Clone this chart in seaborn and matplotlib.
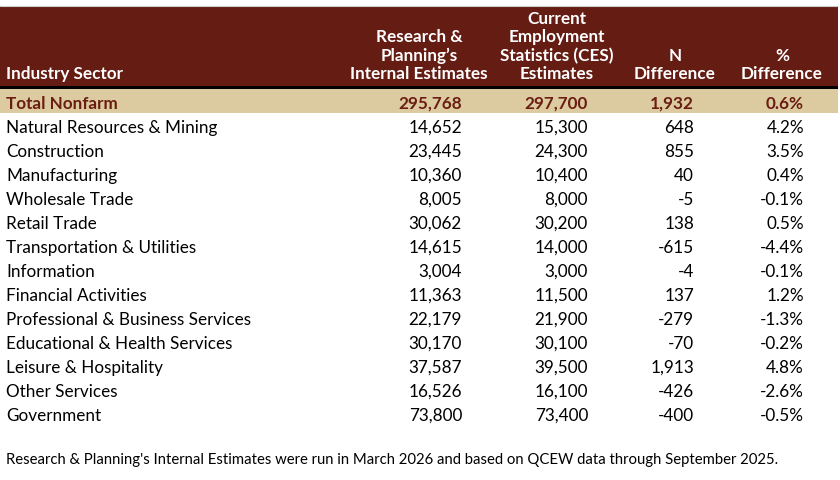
import pandas as pd
import matplotlib.pyplot as plt
import seaborn as sns

# Table values
sectors = ['Total Nonfarm', 'Natural Resources & Mining', 'Construction', 'Manufacturing',
           'Wholesale Trade', 'Retail Trade', 'Transportation & Utilities', 'Information',
           'Financial Activities', 'Professional & Business Services',
           'Educational & Health Services', 'Leisure & Hospitality', 'Other Services',
           'Government']
rp_estimates = [295768, 14652, 23445, 10360, 8005, 30062, 14615, 3004, 11363, 22179,
                30170, 37587, 16526, 73800]
ces_estimates = [297700, 15300, 24300, 10400, 8000, 30200, 14000, 3000, 11500, 21900,
                 30100, 39500, 16100, 73400]
n_difference = [1932, 648, 855, 40, -5, 138, -615, -4, 137, -279, -70, 1913, -426, -400]
pct_difference = [0.6, 4.2, 3.5, 0.4, -0.1, 0.5, -4.4, -0.1, 1.2, -1.3, -0.2, 4.8, -2.6, -0.5]

headers = ['Industry Sector', "Research &\nPlanning\u2019s\nInternal Estimates",
           'Current\nEmployment\nStatistics (CES)\nEstimates', 'N\nDifference', '%\nDifference']
footnote = ("Research & Planning's Internal Estimates were run in March 2026 and based on "
            "QCEW data through September 2025.")

df = pd.DataFrame({'sector': sectors, 'rp': rp_estimates, 'ces': ces_estimates,
                   'n': n_difference, 'pct': pct_difference})

sns.set_theme(style='white')
plt.rcParams['font.family'] = ['Lato', 'DejaVu Sans']

header_bg = '#641c13'
total_bg = '#dccba1'
total_fg = '#6a1d12'

fig = plt.figure(figsize=(8.4, 4.81), dpi=100)
ax = fig.add_axes([0, 0, 1, 1])
ax.set_xlim(0, 840)
ax.set_ylim(481, 0)
ax.axis('off')

# header block and rule
ax.axhspan(7, 87, xmin=0, xmax=838 / 840, color=header_bg, lw=0)
ax.axhspan(87, 90, xmin=0, xmax=838 / 840, color='black', lw=0)
ax.axhline(7, xmax=838 / 840, color='#cccccc', lw=0.8)

# header text
fs = 12.3
ax.text(6, 79, headers[0], color='white', fontsize=fs, fontweight='bold', va='baseline')
col_centers = [419, 557, 675, 782]
for cx, h in zip(col_centers, headers[1:]):
    ax.text(cx, 79, h, color='white', fontsize=fs, fontweight='bold', ha='center',
            va='baseline', linespacing=1.17)

# rows
row_h = 24
first_y = 104
right_edges = [462, 588, 694, 804]
for i, r in df.iterrows():
    y = first_y + i * row_h
    total = i == 0
    if total:
        ax.axhspan(90, 114, xmin=0, xmax=838 / 840, color=total_bg, lw=0)
    color = total_fg if total else 'black'
    weight = 'bold' if total else 'normal'
    vals = [f"{r['rp']:,}", f"{r['ces']:,}", f"{r['n']:,}", f"{r['pct']:.1f}%"]
    ax.text(6, y, r['sector'], color=color, fontsize=fs, fontweight=weight, va='center')
    for xr, v in zip(right_edges, vals):
        ax.text(xr, y, v, color=color, fontsize=fs, fontweight=weight, ha='right', va='center')

ax.text(6, 460, footnote, fontsize=10.75, color='black', va='center')

fig.savefig('out.png', dpi=100)
